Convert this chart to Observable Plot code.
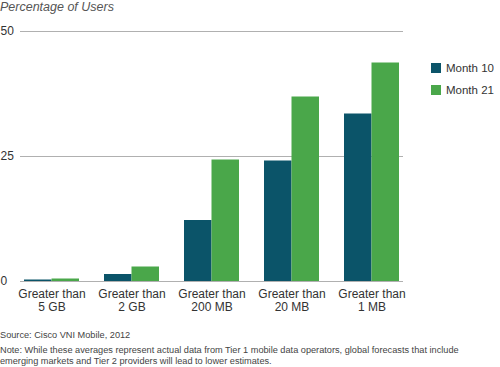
<!DOCTYPE html>
<html><head><meta charset="utf-8">
<script src="https://cdn.jsdelivr.net/npm/d3@7"></script>
<script src="https://cdn.jsdelivr.net/npm/@observablehq/plot@0.6"></script>
<style>
body{margin:0;background:#fff;font-family:"Liberation Sans",Arial,sans-serif;}
#wrap{position:relative;width:500px;height:367px;overflow:hidden;}
#title{position:absolute;left:0;top:0px;font-size:12.5px;font-style:italic;color:#555;}
#legend{position:absolute;left:431px;top:62px;width:69px;}
#src{position:absolute;left:0;top:330px;font-size:9.2px;color:#444;}
#note{position:absolute;left:0;top:345px;font-size:9.2px;color:#444;line-height:10.5px;width:500px;}
.lg-swatch{padding-bottom:10px !important;margin:0 !important;}
.lg-swatch svg{margin-right:5px !important;}
</style></head>
<body><div id="wrap">
<div id="chart"></div>
<div id="title">Percentage of Users</div>
<div id="legend"></div>
<div id="src">Source: Cisco VNI Mobile, 2012</div>
<div id="note">Note: While these averages represent actual data from Tier 1 mobile data operators, global forecasts that include<br>emerging markets and Tier 2 providers will lead to lower estimates.</div>
</div>
<script>
const categories = ["5 GB", "2 GB", "200 MB", "20 MB", "1 MB"];
const series = ["Month 10", "Month 21"];
const month10 = [0.3, 1.4, 12.2, 24.1, 33.5];
const month21 = [0.5, 2.9, 24.3, 36.9, 43.7];
const yTicks = [0, 25, 50];
const colors = ["#0b5469", "#4aa74a"];

const data = [];
categories.forEach((c, i) => {
  data.push({cat: c, series: series[0], value: month10[i]});
  data.push({cat: c, series: series[1], value: month21[i]});
});

function build(bw) {
  const half = bw / 2;
  return Plot.plot({
    width: 500, height: 367,
    marginTop: 31, marginBottom: 86, marginLeft: 20, marginRight: 97,
    style: {fontFamily: '"Liberation Sans", Arial, sans-serif', background: "transparent"},
    x: {type: "band", domain: categories, paddingInner: 0.3125, paddingOuter: 0.03, label: null},
    y: {domain: [0, 50], label: null},
    color: {domain: series, range: colors},
    marks: [
      Plot.ruleY(yTicks, {stroke: "#b0b0b0", strokeWidth: 1}),
      Plot.barY(data.filter(d => d.series === series[0]), {x: "cat", y: "value", fill: "series", insetRight: half}),
      Plot.barY(data.filter(d => d.series === series[1]), {x: "cat", y: "value", fill: "series", insetLeft: half}),
      Plot.axisY({ticks: yTicks, tickSize: 0, tickPadding: 0, textAnchor: "start", dx: -20, fontSize: 12, fill: "#333", label: null}),
      Plot.axisX({tickSize: 0, tickPadding: 7, fontSize: 12, fill: "#333", label: null, lineHeight: 1.1,
        tickFormat: d => "Greater than\n" + d})
    ]
  });
}
const probe = build(0);
const bw = probe.scale("x").bandwidth;
const chart = build(bw);
document.getElementById("chart").append(chart);

const leg = Plot.legend({color: {domain: series, range: colors}, legend: "swatches", columns: 1, swatchSize: 10,
  className: "lg",
  style: {fontFamily: '"Liberation Sans", Arial, sans-serif', fontSize: "11.5px", color: "#333"}});
document.getElementById("legend").append(leg);
</script>
</body></html>
